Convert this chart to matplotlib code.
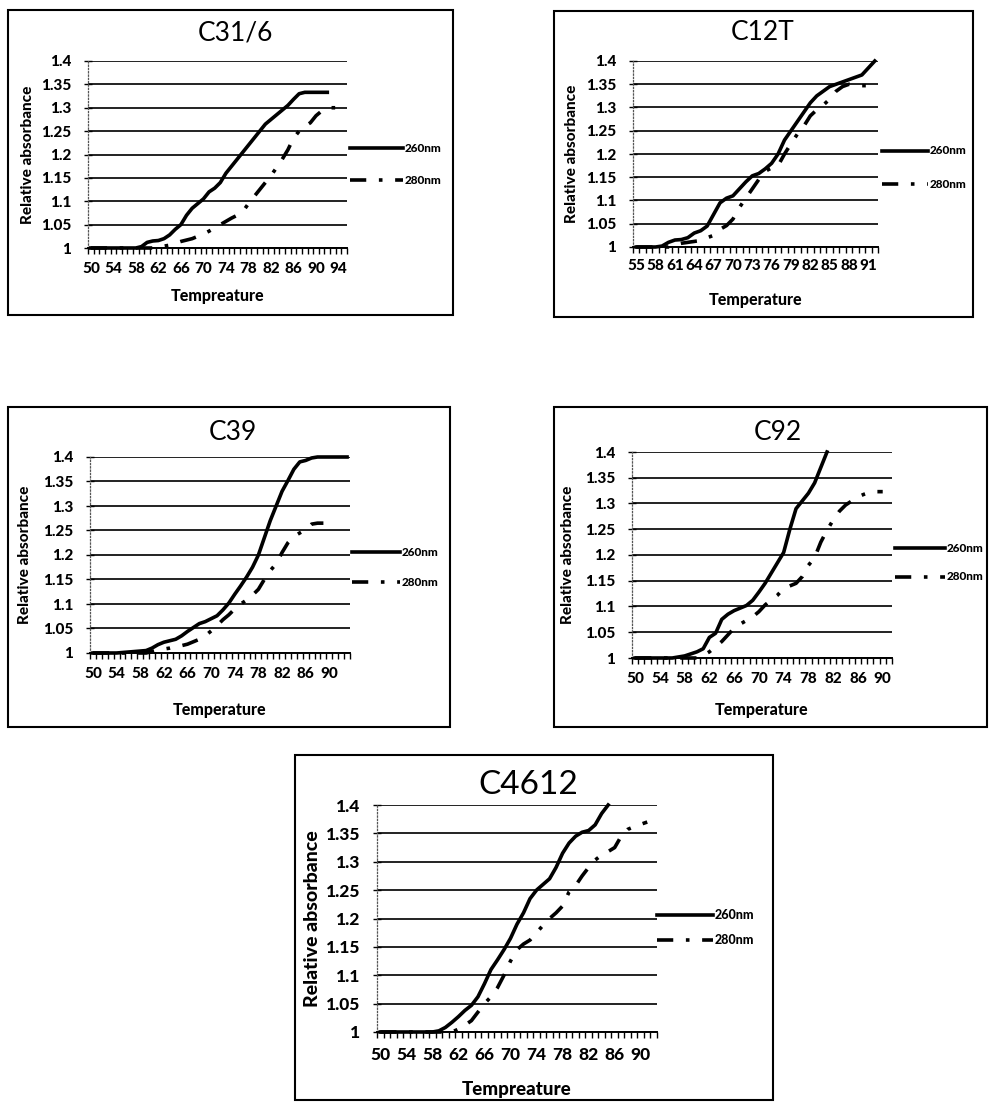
import numpy as np
import matplotlib
matplotlib.use('Agg')
import matplotlib.pyplot as plt
from matplotlib.patches import Rectangle
from matplotlib.lines import Line2D

plt.rcParams['font.family'] = ['Lato', 'DejaVu Sans']

W, H = 989, 1104

# relative absorbance, one value per degree
c316_260 = [1.0, 1.0, 1.0, 1.0, 1.0, 1.0, 1.0, 1.0, 1.0, 1.003, 1.012, 1.015, 1.016, 1.02, 1.028,
            1.04, 1.05, 1.07, 1.085, 1.095, 1.105, 1.12, 1.128, 1.14, 1.16, 1.175, 1.19, 1.205,
            1.22, 1.235, 1.25, 1.265, 1.275, 1.285, 1.295, 1.305, 1.318, 1.33, 1.333, 1.333,
            1.333, 1.333, 1.333]
c316_280 = [1.0, 1.0, 1.0, 1.0, 1.0, 1.0, 1.0, 1.0, 1.0, 1.0, 1.0, 1.0, 1.002, 1.004, 1.006,
            1.01, 1.014, 1.017, 1.02, 1.025, 1.03, 1.036, 1.043, 1.05, 1.057, 1.064, 1.07, 1.078,
            1.095, 1.11, 1.125, 1.14, 1.155, 1.172, 1.19, 1.21, 1.235, 1.25, 1.26, 1.268, 1.283,
            1.293, 1.30, 1.30, 1.30, 1.30]

c12t_260 = [1.0, 1.0, 1.0, 1.0, 1.002, 1.01, 1.015, 1.016, 1.02, 1.03, 1.035, 1.045, 1.07, 1.095,
            1.105, 1.11, 1.125, 1.14, 1.153, 1.158, 1.168, 1.18, 1.2, 1.23, 1.25, 1.27, 1.29,
            1.31, 1.325, 1.335, 1.345, 1.35, 1.355, 1.36, 1.365, 1.37, 1.385, 1.4]
c12t_280 = [1.0, 1.0, 1.0, 1.0, 1.0, 1.0, 1.005, 1.008, 1.01, 1.012, 1.014, 1.02, 1.025, 1.038,
            1.046, 1.06, 1.085, 1.105, 1.125, 1.145, 1.163, 1.17, 1.175, 1.2, 1.222, 1.243, 1.26,
            1.282, 1.295, 1.305, 1.318, 1.335, 1.345, 1.35, 1.348, 1.347, 1.347, 1.347]

c39_260 = [1.0, 1.0, 1.0, 1.0, 1.0, 1.001, 1.002, 1.003, 1.004, 1.005, 1.01, 1.017, 1.022, 1.025,
           1.028, 1.035, 1.044, 1.052, 1.06, 1.064, 1.07, 1.076, 1.088, 1.102, 1.12, 1.137, 1.155,
           1.175, 1.2, 1.235, 1.27, 1.3, 1.33, 1.352, 1.375, 1.39, 1.393, 1.398, 1.4, 1.4, 1.4,
           1.4, 1.4, 1.4]
c39_280 = [1.0, 1.0, 1.0, 1.0, 1.0, 1.0, 1.0, 1.0, 1.0, 1.0, 1.003, 1.006, 1.008, 1.01, 1.013,
           1.015, 1.018, 1.023, 1.028, 1.035, 1.045, 1.056, 1.068, 1.078, 1.09, 1.1, 1.108, 1.118,
           1.13, 1.15, 1.168, 1.182, 1.205, 1.225, 1.238, 1.245, 1.252, 1.263, 1.265, 1.265]

c92_260 = [1.0, 1.0, 1.0, 1.0, 1.0, 1.0, 1.0, 1.002, 1.004, 1.008, 1.012, 1.018, 1.04, 1.048,
           1.075, 1.085, 1.092, 1.097, 1.102, 1.112, 1.128, 1.145, 1.165, 1.185, 1.205, 1.25,
           1.29, 1.305, 1.32, 1.34, 1.37, 1.4]
c92_280 = [1.0, 1.0, 1.0, 1.0, 1.0, 1.0, 1.0, 1.0, 1.0, 1.0, 1.0, 1.005, 1.012, 1.022, 1.032,
           1.045, 1.058, 1.066, 1.073, 1.08, 1.09, 1.103, 1.113, 1.122, 1.135, 1.14, 1.145, 1.158,
           1.18, 1.195, 1.225, 1.248, 1.268, 1.285, 1.297, 1.305, 1.313, 1.318, 1.322, 1.323, 1.323]

c4612_260 = [1.0, 1.0, 1.0, 1.0, 1.0, 1.0, 1.0, 1.0, 1.0, 1.002, 1.008, 1.017, 1.027, 1.038,
             1.047, 1.062, 1.085, 1.11, 1.127, 1.145, 1.165, 1.19, 1.21, 1.235, 1.25, 1.26, 1.27,
             1.29, 1.315, 1.333, 1.345, 1.352, 1.355, 1.365, 1.385, 1.4]
c4612_280 = [1.0, 1.0, 1.0, 1.0, 1.0, 1.0, 1.0, 1.0, 1.0, 1.0, 1.0, 1.0, 1.005, 1.012, 1.02,
             1.035, 1.05, 1.062, 1.078, 1.1, 1.125, 1.145, 1.155, 1.162, 1.175, 1.188, 1.2, 1.21,
             1.222, 1.247, 1.258, 1.275, 1.29, 1.303, 1.312, 1.318, 1.325, 1.345, 1.357, 1.362,
             1.366, 1.37]

yticks = [1.0, 1.05, 1.1, 1.15, 1.2, 1.25, 1.3, 1.35, 1.4]
ytick_labels = ['1', '1.05', '1.1', '1.15', '1.2', '1.25', '1.3', '1.35', '1.4']
series_names = ['260nm', '280nm']

# layout in pixels: box, plot area, title pos, y label x, x label y, legend
# fs = (title, ticks, y label, x label, legend)
panels = [
    dict(title='C31/6', first=50, last=95, step=4, xlabel='Tempreature',
         s260=c316_260, s280=c316_280,
         box=(8, 10, 453, 315), plot=(88, 61, 347, 248), title_xy=(235, 33),
         ylab_x=28, xlab_y=296, leg=(350, 403, 148, 180), fs=(19, 11, 11, 11.5, 8.5),
         xpad=10, ypad=9),
    dict(title='C12T', first=55, last=92, step=3, xlabel='Temperature',
         s260=c12t_260, s280=c12t_280,
         box=(554, 11, 973, 317), plot=(633, 61, 878, 247), title_xy=(763, 33),
         ylab_x=572, xlab_y=300, leg=(882, 928, 151, 184), fs=(19, 11, 11, 11.5, 8.5),
         xpad=9, ypad=9),
    dict(title='C39', first=50, last=93, step=4, xlabel='Temperature',
         s260=c39_260, s280=c39_280,
         box=(8, 407, 450, 727), plot=(90, 457, 350, 653), title_xy=(233, 432),
         ylab_x=25, xlab_y=710, leg=(352, 400, 552, 582), fs=(19, 11, 11, 11.5, 8.5),
         xpad=10, ypad=9),
    dict(title='C92', first=50, last=91, step=4, xlabel='Temperature',
         s260=c92_260, s280=c92_280,
         box=(554, 407, 987, 727), plot=(632, 452, 892, 658), title_xy=(778, 432),
         ylab_x=568, xlab_y=710, leg=(895, 945, 548, 577), fs=(19, 11, 11, 11.5, 8.5),
         xpad=10, ypad=9),
    dict(title='C4612', first=50, last=92, step=4, xlabel='Tempreature',
         s260=c4612_260, s280=c4612_280,
         box=(295, 755, 773, 1100), plot=(377, 805, 657, 1032), title_xy=(528, 785),
         ylab_x=312, xlab_y=1090, leg=(657, 713, 915, 940), fs=(24, 12.5, 14, 13.5, 9),
         xpad=11, ypad=9),
]

dashdot = (0, (4.5, 3.5, 1, 3.5))

fig = plt.figure(figsize=(W / 100, H / 100), dpi=100)

for p in panels:
    bx0, by0, bx1, by1 = p['box']
    fig.add_artist(Rectangle((bx0 / W, 1 - by1 / H), (bx1 - bx0) / W, (by1 - by0) / H,
                             transform=fig.transFigure, fill=False, ec='black', lw=1.5))
    x0, y0, x1, y1 = p['plot']
    ax = fig.add_axes([x0 / W, 1 - y1 / H, (x1 - x0) / W, (y1 - y0) / H])
    ft, fk, fyl, fxl, fl = p['fs']
    n = p['last'] - p['first'] + 1
    ax.set_xlim(-0.5, n - 0.5)
    ax.set_ylim(1.0, 1.4)
    ax.set_yticks(yticks)
    ax.set_yticklabels(ytick_labels, fontweight='black', fontsize=fk)
    xt = list(range(0, n, p['step']))
    ax.set_xticks(xt)
    ax.set_xticklabels([str(p['first'] + i) for i in xt], fontweight='black', fontsize=fk)
    ax.set_xticks(np.arange(-0.5, n, 1.0), minor=True)
    ax.tick_params(axis='x', which='major', length=0, pad=p['xpad'])
    ax.tick_params(axis='x', which='minor', length=4, width=1.0, direction='out')
    ax.tick_params(axis='y', length=6, width=1.0, direction='inout', pad=p['ypad'])
    ax.grid(axis='y', color='#111111', lw=1.3)
    for s in ['top', 'right']:
        ax.spines[s].set_visible(False)
    ax.spines['left'].set_linestyle(':')
    ax.spines['left'].set_color('#555555')
    ax.spines['left'].set_linewidth(0.9)
    ax.spines['bottom'].set_linewidth(1.4)

    t1 = np.arange(len(p['s260']))
    t2 = np.arange(len(p['s280']))
    ax.plot(t1, p['s260'], color='black', lw=2.6, clip_on=False, solid_joinstyle='round')
    ax.plot(t2, p['s280'], color='black', lw=2.6, ls=dashdot, clip_on=False)

    tx, ty = p['title_xy']
    fig.text(tx / W, 1 - ty / H, p['title'], fontsize=ft, ha='center', va='center')
    fig.text(p['ylab_x'] / W, 1 - (y0 + y1) / 2 / H, 'Relative absorbance', rotation=90,
             fontsize=fyl, fontweight='black', ha='center', va='center')
    fig.text((x0 + x1) / 2 / W, 1 - p['xlab_y'] / H, p['xlabel'], fontsize=fxl,
             fontweight='black', ha='center', va='center')

    lx0, lx1, ly1, ly2 = p['leg']
    fig.add_artist(Line2D([lx0 / W, lx1 / W], [1 - ly1 / H, 1 - ly1 / H], color='black',
                          lw=2.6, transform=fig.transFigure))
    fig.add_artist(Line2D([lx0 / W, lx1 / W], [1 - ly2 / H, 1 - ly2 / H], color='black',
                          lw=2.6, ls=dashdot, transform=fig.transFigure))
    fig.text((lx1 + 2) / W, 1 - ly1 / H, series_names[0], fontsize=fl, fontweight='black',
             ha='left', va='center')
    fig.text((lx1 + 2) / W, 1 - ly2 / H, series_names[1], fontsize=fl, fontweight='black',
             ha='left', va='center')

fig.savefig('out.png', dpi=100)
